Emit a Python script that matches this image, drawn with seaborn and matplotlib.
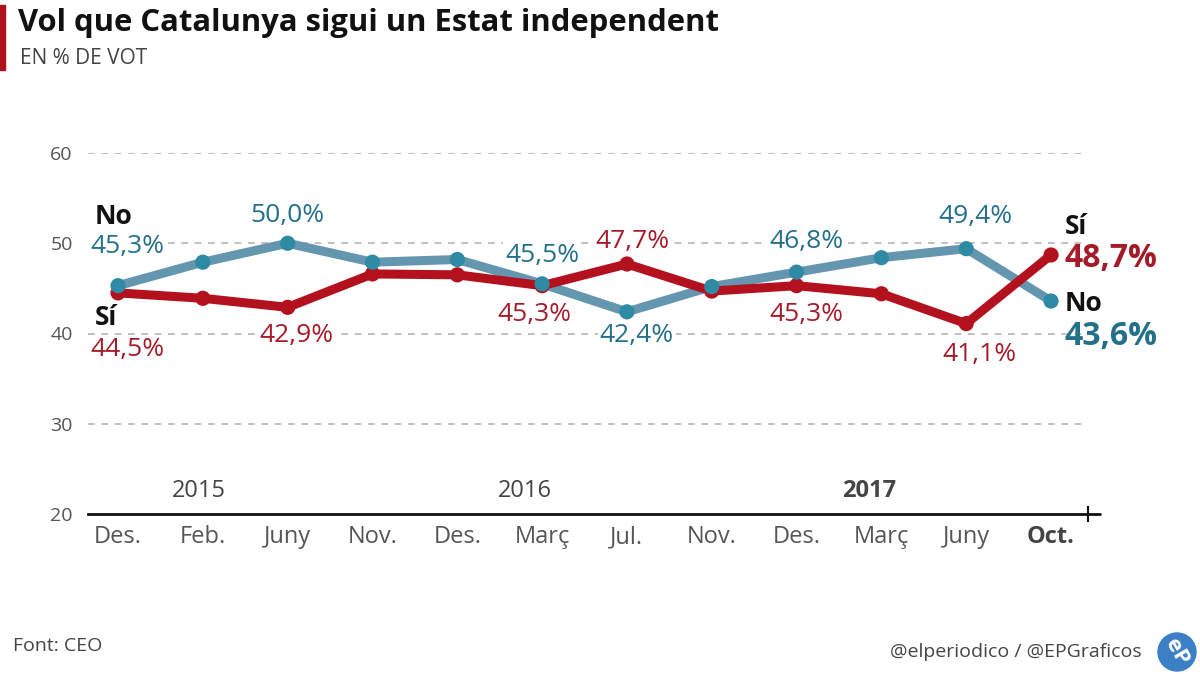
import matplotlib
matplotlib.use("Agg")
import matplotlib.pyplot as plt
import seaborn as sns
import pandas as pd
from matplotlib.patches import Rectangle, Circle

# ---- data ----
months = ["Des.", "Feb.", "Juny", "Nov.", "Des.", "Març", "Jul.", "Nov.", "Des.", "Març", "Juny", "Oct."]
no_vals = [45.3, 47.9, 50.0, 47.9, 48.2, 45.5, 42.4, 45.2, 46.8, 48.4, 49.4, 43.6]
si_vals = [44.5, 43.9, 42.9, 46.6, 46.5, 45.3, 47.7, 44.7, 45.3, 44.4, 41.1, 48.7]
years = ["2015", "2016", "2017"]
year_pos = [0.95, 4.8, 8.85]
y_ticks = [20, 30, 40, 50, 60]
no_labeled = [0, 2, 5, 6, 8, 10]
si_labeled = [0, 2, 5, 6, 8, 10]

sns.set_theme(style="white")
plt.rcParams["font.family"] = ["Open Sans", "DejaVu Sans"]

BLUE_LINE = "#6496b0"
BLUE_DOT = "#2f8aa3"
BLUE_TXT = "#23708a"
RED = "#b3111d"
RED_TXT = "#a61b29"
GREY = "#555555"

df = pd.DataFrame({
    "pos": list(range(len(months))) * 2,
    "val": no_vals + si_vals,
    "serie": ["No"] * len(months) + ["Sí"] * len(months),
})

fig = plt.figure(figsize=(12, 6.74), dpi=100)
ax = fig.add_axes([88 / 1200, 1 - 514 / 674, 1000 / 1200, (514 - 153) / 674])

sns.lineplot(data=df, x="pos", y="val", hue="serie", hue_order=["No", "Sí"],
             palette={"No": BLUE_LINE, "Sí": RED}, linewidth=6.5, legend=False,
             ax=ax, zorder=3)
sns.scatterplot(data=df[df.serie == "Sí"], x="pos", y="val", color=RED, s=120,
                edgecolor="none", legend=False, ax=ax, zorder=4)
sns.scatterplot(data=df[df.serie == "No"], x="pos", y="val", color=BLUE_DOT, s=120,
                edgecolor="none", legend=False, ax=ax, zorder=5)

ax.set_xlim(-0.354, 11.436)
ax.set_ylim(20, 60)
ax.set_xlabel("")
ax.set_ylabel("")
for s in ["top", "right", "left"]:
    ax.spines[s].set_visible(False)
ax.spines["bottom"].set_color("#111111")
ax.spines["bottom"].set_linewidth(2)
ax.plot([1.0, 1.012], [0, 0], transform=ax.transAxes, color="#111111", lw=2, clip_on=False)
ax.plot([1.0], [0], transform=ax.transAxes, marker="|", color="#111111", ms=12, mew=1.5, clip_on=False)

ax.set_yticks(y_ticks)
ax.set_yticklabels([str(v) for v in y_ticks], color=GREY, fontsize=14)
for v in y_ticks[1:]:
    ax.axhline(v, color="#b5b5b5", lw=1.2, ls=(0, (4, 4)), zorder=1)
ax.tick_params(axis="y", length=0, pad=11)

ax.set_xticks(range(len(months)))
ax.set_xticklabels(months, fontsize=17, color=GREY)
ax.get_xticklabels()[-1].set_fontweight("bold")
ax.get_xticklabels()[-1].set_color("#444444")
ax.tick_params(axis="x", length=0, pad=8)

for i, (yr, xp) in enumerate(zip(years, year_pos)):
    ax.annotate(yr, xy=(xp, 20), xytext=(0, 23), textcoords="offset pixels",
                ha="center", va="center", fontsize=17, color="#444444",
                fontweight="bold" if i == 2 else "normal")

bbox = dict(boxstyle="square,pad=0.08", fc="white", ec="none")

def fmt(v):
    return f"{v:.1f}".replace(".", ",") + "%"

no_off = {0: (9, 39), 2: (0, 28), 5: (0, 28), 6: (10, -24), 8: (10, 31), 10: (9, 32)}
si_off = {0: (9, -57), 2: (9, -28), 5: (-8, -29), 6: (6, 23), 8: (10, -29), 10: (13, -31)}
for i in no_labeled:
    ax.annotate(fmt(no_vals[i]), xy=(i, no_vals[i]), xytext=no_off[i], textcoords="offset pixels",
                ha="center", va="center", fontsize=19, color=BLUE_TXT, bbox=bbox, zorder=2)
for i in si_labeled:
    ax.annotate(fmt(si_vals[i]), xy=(i, si_vals[i]), xytext=si_off[i], textcoords="offset pixels",
                ha="center", va="center", fontsize=19, color=RED_TXT, bbox=bbox, zorder=2)

# series names at the start
ax.annotate("No", xy=(0, no_vals[0]), xytext=(-23, 69), textcoords="offset pixels",
            ha="left", va="center", fontsize=19, fontweight="bold", color="#111111", zorder=6)
ax.annotate("Sí", xy=(0, si_vals[0]), xytext=(-23, -25), textcoords="offset pixels",
            ha="left", va="center", fontsize=19, fontweight="bold", color="#111111", zorder=6)

# end labels
last = len(months) - 1
ax.annotate("Sí", xy=(last, si_vals[last]), xytext=(14, 28), textcoords="offset pixels",
            ha="left", va="center", fontsize=19, fontweight="bold", color="#111111",
            annotation_clip=False)
ax.annotate(fmt(si_vals[last]), xy=(last, si_vals[last]), xytext=(13, -4), textcoords="offset pixels",
            ha="left", va="center", fontsize=23, fontweight="bold", color=RED_TXT,
            annotation_clip=False)
ax.annotate("No", xy=(last, no_vals[last]), xytext=(14, -2), textcoords="offset pixels",
            ha="left", va="center", fontsize=19, fontweight="bold", color="#111111",
            annotation_clip=False)
ax.annotate(fmt(no_vals[last]), xy=(last, no_vals[last]), xytext=(13, -35), textcoords="offset pixels",
            ha="left", va="center", fontsize=23, fontweight="bold", color=BLUE_TXT,
            annotation_clip=False)

# header
fig.patches.append(Rectangle((0, 1 - 70 / 674), 5 / 1200, 65 / 674, transform=fig.transFigure,
                             color="#b0111d", zorder=5))
fig.text(18 / 1200, 1 - 23 / 674, "Vol que Catalunya sigui un Estat independent",
         fontsize=22.3, fontweight="bold", color="#111111", ha="left", va="center")
fig.text(20 / 1200, 1 - 59 / 674, "EN % DE VOT", fontsize=15, color="#444444",
         ha="left", va="center")

# footer
fig.text(13 / 1200, 1 - 646 / 674, "Font: CEO", fontsize=14, color="#444444", ha="left", va="center")
fig.text(1142 / 1200, 1 - 652 / 674, "@elperiodico / @EPGraficos", fontsize=14, color="#444444",
         ha="right", va="center")
fig.patches.append(Circle((11.77, 6.74 - 6.52), 0.19, transform=fig.dpi_scale_trans,
                          color="#3b7fc4", zorder=5))
fig.text(1177 / 1200, 1 - 652 / 674, "eP", fontsize=16, fontweight="bold", color="white",
         ha="center", va="center", rotation=-60, zorder=6)

fig.savefig("out.png", dpi=100)
